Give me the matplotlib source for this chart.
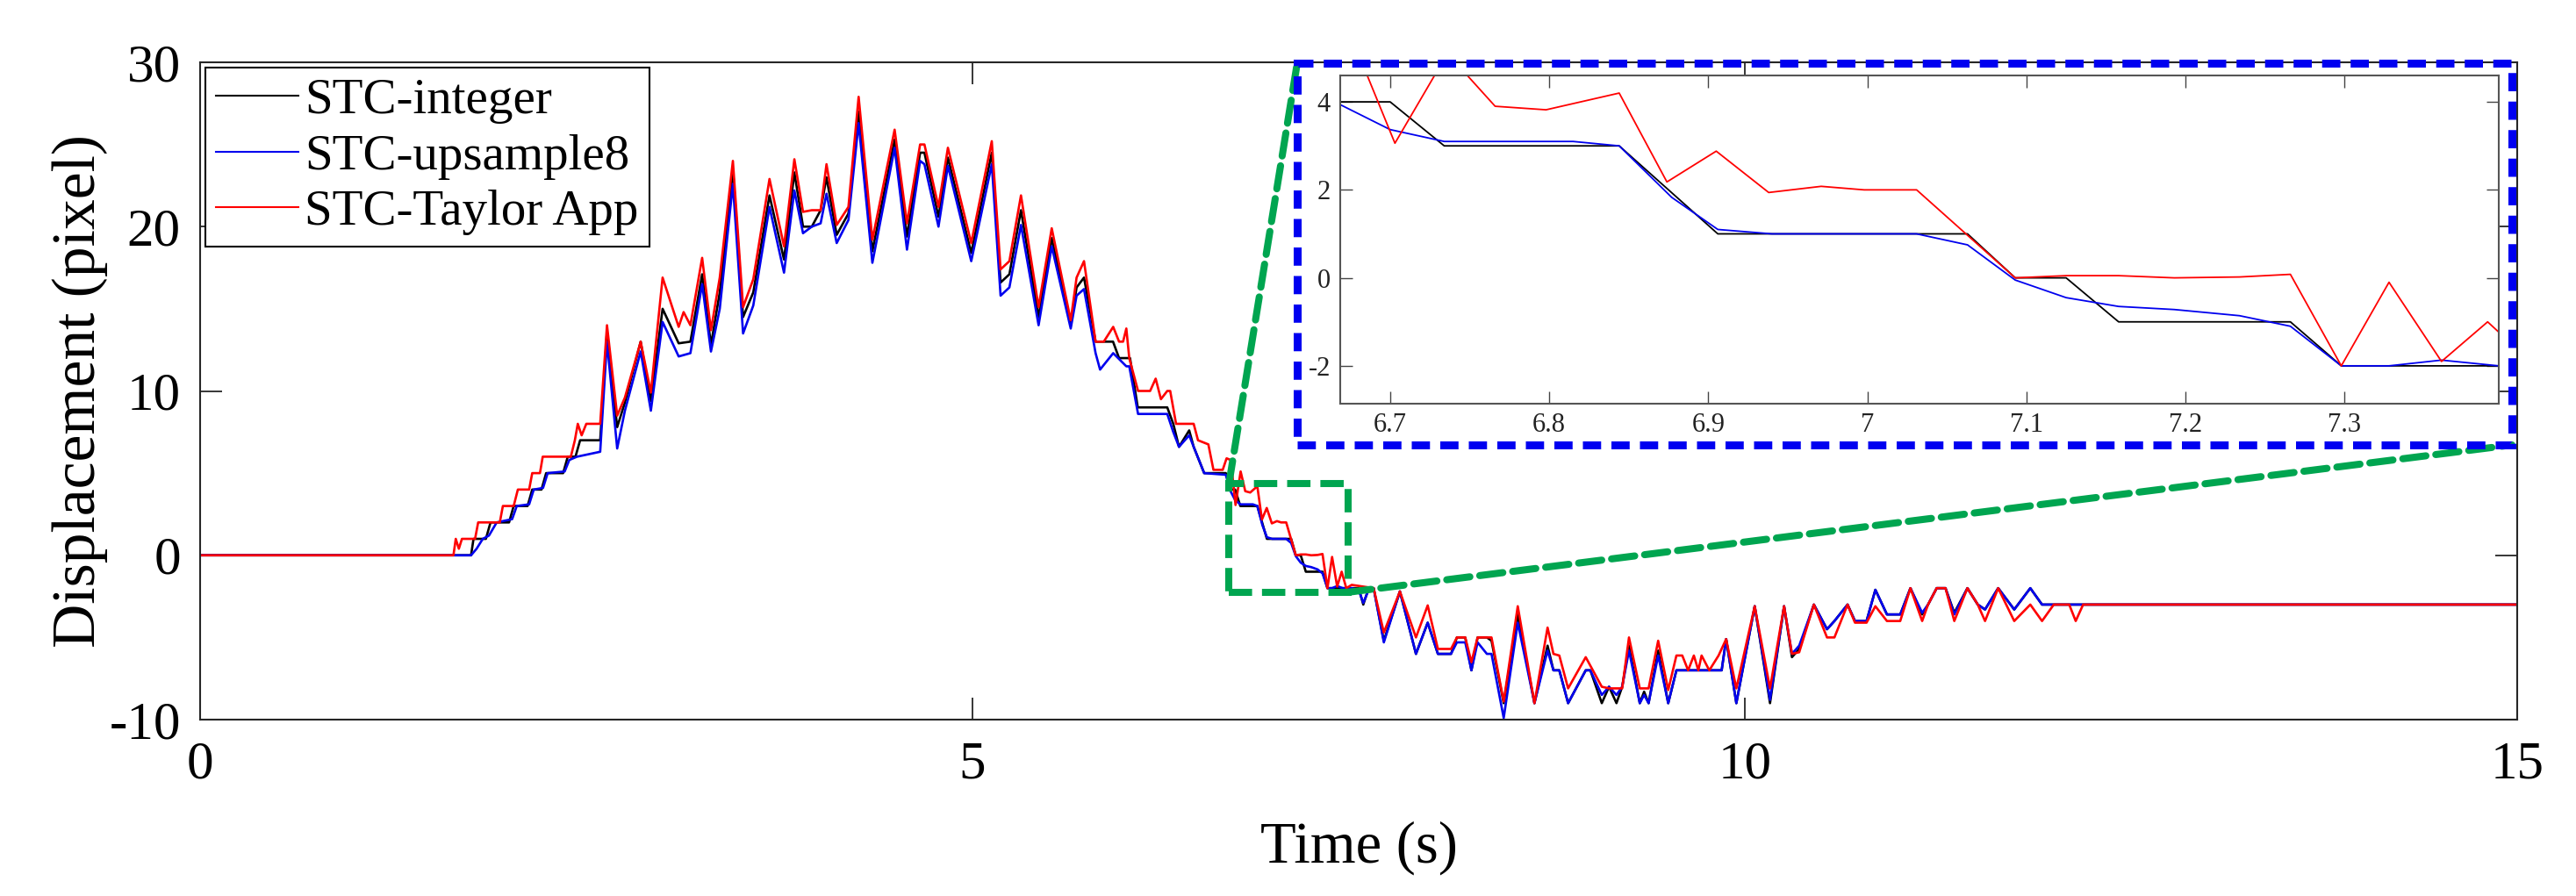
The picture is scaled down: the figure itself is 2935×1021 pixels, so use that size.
import numpy as np
import matplotlib
matplotlib.use("Agg")
import matplotlib.pyplot as plt
from matplotlib.patches import Rectangle, ConnectionPatch

plt.rcParams['font.family'] = ['Liberation Serif', 'DejaVu Serif']
plt.rcParams['axes.unicode_minus'] = False

# ---- data (time in s, displacement in pixel) ----
t_integer = [0, 1.754, 1.77, 1.85, 1.88, 2.0, 2.03, 2.12, 2.15, 2.21, 2.24, 2.35, 2.38, 2.43, 2.46, 2.59,
             2.634, 2.70, 2.75, 2.852, 2.918, 2.994, 3.098, 3.174, 3.25, 3.307, 3.364, 3.449, 3.515, 3.581,
             3.686, 3.78, 3.847, 3.903, 3.96, 4.017, 4.055, 4.121, 4.197, 4.263, 4.352, 4.496, 4.576, 4.661,
             4.689, 4.78, 4.841, 4.992, 5.125, 5.182, 5.239, 5.314, 5.428, 5.513, 5.636, 5.674, 5.722,
             5.797, 5.91, 5.949, 6.02, 6.07, 6.261, 6.30, 6.337, 6.403, 6.432, 6.50, 6.64,
             6.669, 6.70, 6.734, 6.844, 6.906, 7.063, 7.093, 7.125, 7.158, 7.266, 7.298, 7.40,
             7.455, 7.50, 7.53, 7.565, 7.597, 7.663, 7.767, 7.871, 7.947, 8.013, 8.098, 8.136, 8.19, 8.23,
             8.27, 8.33, 8.36, 8.439, 8.53, 8.638, 8.723, 8.761, 8.799, 8.856, 8.97, 9.0, 9.074, 9.121,
             9.169, 9.206, 9.25, 9.32, 9.348, 9.377, 9.439, 9.504, 9.557, 9.85,
             9.879, 9.945, 10.064, 10.163, 10.254, 10.305, 10.352, 10.447, 10.532, 10.58, 10.665, 10.713,
             10.788, 10.845, 10.92, 11.006, 11.072, 11.148, 11.186, 11.242, 11.299, 11.356, 11.441, 11.508,
             11.555, 11.64, 11.744, 11.848, 11.924, 15]
d_integer = [0, 0, 1, 1, 2, 2, 3, 3, 4, 4, 5, 5, 6, 6, 7, 7,
             13.6, 7.8, 9.3, 13.0, 9.4, 15.0, 12.9, 13.0, 17.1, 12.8, 16.0, 23.5, 14.5, 16.0,
             21.9, 18.0, 23.3, 20.0, 20.0, 21.0, 23.0, 19.5, 20.8, 27.0, 18.5, 25.3, 19.4, 24.5,
             24.5, 20.6, 24.2, 18.4, 24.5, 16.6, 17.1, 21.0, 14.5, 19.3, 14.0, 16.3, 16.9,
             13.0, 13.0, 12.0, 12.0, 9.0, 9.0, 8.0, 6.6, 7.6, 6.6, 5.0, 5.0,
             4, 4, 3, 3, 1, 1, 0, 0, -1, -1, -2, -2,
             -2, -2, -3, -2, -2, -5.2, -2.2, -6.0, -4.1, -6.0, -6.0, -5.0, -5.0, -7.0,
             -5.0, -5.0, -5.2, -9.0, -3.6, -9.0, -5.5, -7.0, -7.0, -9.0, -7.0, -7.0, -9.0, -8.0,
             -9.0, -8.0, -5.5, -9.0, -8.3, -9.0, -5.8, -9.0, -7.0, -7.0,
             -5.1, -9.0, -3.1, -9.0, -3.1, -6.2, -5.7, -3.0, -4.5, -4.0, -3.0, -4.0,
             -4.0, -2.1, -3.6, -3.6, -2.0, -3.6, -3.0, -2.0, -2.0, -3.5, -2.0, -3.0,
             -3.3, -2.0, -3.3, -2.0, -3.0, -3]

t_upsample = [0, 1.754, 1.79, 1.83, 1.87, 1.92, 2.02, 2.05, 2.13, 2.16, 2.22, 2.25, 2.36, 2.39, 2.44, 2.59,
              2.634, 2.70, 2.75, 2.852, 2.918, 2.994, 3.098, 3.174, 3.25, 3.307, 3.364, 3.449, 3.515, 3.581,
              3.686, 3.78, 3.847, 3.903, 3.96, 4.017, 4.055, 4.121, 4.197, 4.263, 4.352, 4.496, 4.576, 4.661,
              4.689, 4.78, 4.841, 4.992, 5.125, 5.182, 5.239, 5.314, 5.428, 5.513, 5.636, 5.674, 5.722,
              5.797, 5.826, 5.911, 5.996, 6.015, 6.072, 6.261, 6.30, 6.337, 6.403, 6.432, 6.50, 6.64,
              6.669, 6.70, 6.734, 6.815, 6.844, 6.877, 6.906, 6.94, 7.031, 7.063, 7.093, 7.125, 7.158,
              7.193, 7.234, 7.266, 7.298, 7.328, 7.361, 7.397,
              7.455, 7.50, 7.53, 7.565, 7.597, 7.663, 7.767, 7.871, 7.947, 8.013, 8.098, 8.136, 8.19, 8.23,
              8.27, 8.33, 8.36, 8.439, 8.53, 8.638, 8.723, 8.761, 8.799, 8.856, 8.97, 9.0, 9.074, 9.121,
              9.169, 9.206, 9.25, 9.32, 9.348, 9.377, 9.439, 9.504, 9.557, 9.85,
              9.879, 9.945, 10.064, 10.163, 10.254, 10.305, 10.352, 10.447, 10.532, 10.58, 10.665, 10.713,
              10.788, 10.845, 10.92, 11.006, 11.072, 11.148, 11.186, 11.242, 11.299, 11.356, 11.441, 11.508,
              11.555, 11.64, 11.744, 11.848, 11.924, 15]
d_upsample = [0, 0, 0.4, 1.0, 1.2, 2.0, 2.2, 3.0, 3.1, 4.0, 4.1, 5.0, 5.1, 5.8, 6.0, 6.3,
              13.0, 6.5, 8.8, 12.4, 8.8, 14.2, 12.1, 12.3, 16.5, 12.4, 15.0, 22.6, 13.5, 15.2,
              21.2, 17.2, 22.2, 19.6, 20.0, 20.2, 22.0, 19.0, 20.4, 26.3, 17.8, 24.8, 18.6, 24.0,
              23.8, 20.0, 23.7, 17.9, 23.8, 15.8, 16.3, 20.1, 14.0, 18.8, 13.8, 15.8, 16.2,
              12.3, 11.3, 12.3, 11.5, 11.5, 8.6, 8.6, 7.5, 6.6, 7.3, 6.6, 5.0, 4.9,
              3.93, 3.37, 3.1, 3.1, 3.0, 1.83, 1.1, 1.0, 1.0, 0.75, -0.05, -0.45, -0.65,
              -0.72, -0.86, -1.1, -2.0, -2.0, -1.87, -2.0,
              -2.0, -2.1, -2.9, -2.1, -2.0, -5.3, -2.2, -6.0, -4.1, -6.0, -6.0, -5.3, -5.3, -7.0,
              -5.3, -6.0, -6.0, -9.9, -4.1, -9.0, -5.8, -7.0, -7.0, -9.0, -7.0, -7.0, -8.5, -8.0,
              -8.5, -8.0, -5.8, -9.0, -8.5, -9.0, -6.1, -9.0, -7.0, -7.0,
              -5.1, -9.0, -3.1, -8.8, -3.1, -6.0, -5.5, -3.0, -4.5, -4.0, -3.0, -4.0,
              -4.0, -2.1, -3.6, -3.6, -2.0, -3.5, -3.0, -2.0, -2.0, -3.6, -2.0, -3.0,
              -3.3, -2.0, -3.3, -2.0, -3.0, -3]

t_taylor = [0, 1.64, 1.655, 1.675, 1.695, 1.78, 1.80, 1.94, 1.96, 2.03, 2.057, 2.13, 2.15, 2.20, 2.218,
            2.40, 2.426, 2.445, 2.47, 2.50, 2.59,
            2.634, 2.70, 2.75, 2.852, 2.918, 2.994, 3.098, 3.13, 3.174, 3.25, 3.307, 3.364, 3.449, 3.515, 3.581,
            3.686, 3.78, 3.847, 3.903, 3.96, 4.017, 4.055, 4.121, 4.197, 4.263, 4.352, 4.496, 4.576, 4.661,
            4.689, 4.78, 4.841, 4.992, 5.125, 5.182, 5.239, 5.314, 5.428, 5.513, 5.636, 5.674, 5.722,
            5.797, 5.85, 5.911, 5.949, 5.975, 5.996, 6.015, 6.072, 6.15, 6.186, 6.22, 6.261, 6.28, 6.318,
            6.432, 6.46, 6.527, 6.56, 6.62, 6.645,
            6.672, 6.703, 6.736, 6.766, 6.798, 6.844, 6.874, 6.905, 6.938, 6.971, 6.998, 7.031, 7.093,
            7.125, 7.158, 7.193, 7.234, 7.266, 7.298, 7.328, 7.361, 7.39, 7.42,
            7.455, 7.597, 7.663, 7.767, 7.871, 7.947, 8.013, 8.098, 8.136, 8.19, 8.23, 8.27, 8.36, 8.439,
            8.53, 8.638, 8.723, 8.761, 8.799, 8.856, 8.97, 9.074, 9.121, 9.206, 9.25, 9.32, 9.377, 9.439,
            9.504, 9.557, 9.595, 9.633, 9.67, 9.699, 9.72, 9.77, 9.83,
            9.879, 9.945, 10.064, 10.163, 10.254, 10.305, 10.352, 10.447, 10.532, 10.58, 10.665, 10.713,
            10.788, 10.845, 10.92, 11.006, 11.072, 11.148, 11.186, 11.242, 11.299, 11.356, 11.441, 11.508,
            11.555, 11.64, 11.744, 11.848, 11.924, 12.0, 12.10, 12.142, 12.19, 15]
d_taylor = [0, 0, 1.0, 0.4, 1.0, 1.0, 2.0, 2.0, 3.0, 3.0, 4.0, 4.0, 5.0, 5.0, 6.0,
            6.0, 7.0, 8.0, 7.3, 8.0, 8.0,
            14.0, 8.5, 9.6, 13.0, 9.9, 16.9, 13.9, 14.8, 14.0, 18.1, 13.7, 16.9, 24.0, 15.1, 16.8,
            22.9, 18.8, 24.1, 20.9, 21.0, 21.0, 23.8, 20.1, 21.2, 27.9, 19.2, 25.9, 20.2, 25.0,
            25.0, 21.2, 24.8, 19.0, 25.2, 17.4, 17.9, 21.9, 15.1, 19.9, 14.3, 16.9, 17.9,
            13.0, 13.0, 13.9, 13.0, 13.0, 13.8, 12.0, 10.0, 10.0, 10.75, 9.5, 10.0, 10.0, 8.0,
            8.0, 7.0, 6.75, 5.2, 5.2, 5.9,
            5.8, 3.06, 5.1, 3.9, 3.82, 4.2, 2.18, 2.88, 1.94, 2.08, 2.0, 2.0, 0.0,
            0.05, 0.05, 0.0, 0.02, 0.08, -2.0, -0.1, -1.9, -1.0, -2.0,
            -1.8, -2.0, -4.7, -2.2, -5.0, -3.05, -5.7, -5.7, -5.0, -5.0, -6.5, -5.0, -5.0, -8.9,
            -3.1, -9.0, -4.4, -6.0, -6.1, -8.1, -6.2, -8.0, -8.1, -8.1, -5.0, -8.1, -8.1, -5.2,
            -8.2, -6.1, -6.1, -7.0, -6.1, -7.0, -6.1, -7.0, -6.1,
            -5.1, -8.1, -3.1, -8.1, -3.1, -6.0, -5.9, -3.0, -5.0, -5.0, -3.0, -4.1,
            -4.1, -3.1, -4.0, -4.0, -2.0, -4.0, -3.0, -2.0, -2.0, -4.0, -2.0, -3.0,
            -4.0, -2.0, -4.0, -3.0, -4.0, -3.0, -3.0, -4.0, -3.0, -3.0]

series_names = ['STC-integer', 'STC-upsample8', 'STC-Taylor App']
x_ticks = [0, 5, 10, 15]
y_ticks = [-10, 0, 10, 20, 30]
zoom_x_ticks = [6.7, 6.8, 6.9, 7.0, 7.1, 7.2, 7.3]
zoom_x_labels = ['6.7', '6.8', '6.9', '7', '7.1', '7.2', '7.3']
zoom_y_ticks = [-2, 0, 2, 4]

# ---- layout ----
W, H = 2935, 1021
fig = plt.figure(figsize=(W / 100, H / 100), dpi=100)
ax = fig.add_axes([228 / W, 1 - 820 / H, 2640 / W, 749 / H])

colors = ['k', '#0000ee', '#ff0000']
series = [(t_integer, d_integer), (t_upsample, d_upsample), (t_taylor, d_taylor)]
for (t, d), c, name in zip(series, colors, series_names):
    ax.plot(np.array(t), np.array(d), color=c, lw=1.9, label=name)

ax.set_xlim(0, 15)
ax.set_ylim(-10, 30)
ax.set_xticks(x_ticks)
ax.set_yticks(y_ticks)
ax.tick_params(direction='in', length=18, width=1.3, top=True, right=True,
               labelsize=44, color='#262626')
ax.tick_params(axis='x', pad=17)
ax.tick_params(axis='y', pad=16)
for s in ax.spines.values():
    s.set_color('#262626')
    s.set_linewidth(1.5)

ax.set_xlabel('Time (s)', fontsize=48)
ax.set_ylabel('Displacement (pixel)', fontsize=50)
ax.xaxis.set_label_coords(0.5, (820 - 935) / 749)
ax.yaxis.set_label_coords((123 - 228) / 2640, 0.5)

leg = ax.legend(loc='upper left', fontsize=41, fancybox=False, framealpha=1,
                edgecolor='k', borderpad=0.22, handlelength=1.65, handletextpad=0.12,
                labelspacing=0.2, borderaxespad=0.1)
leg.get_frame().set_linewidth(1.5)
for h in leg.get_lines():
    h.set_linewidth(1.5)

# green box marking the zoomed region
green = '#00a550'
gx0, gx1, gy0, gy1 = 6.66, 7.43, -2.25, 4.34
ax.add_patch(Rectangle((gx0, gy0), gx1 - gx0, gy1 - gy0, fill=False, edgecolor=green,
                       lw=5.8, linestyle=(0, (3.3, 1.4)), zorder=5, clip_on=False))

# inset
axin = fig.add_axes([1527 / W, 1 - 460 / H, 1320 / W, 374 / H])
for (t, d), c in zip(series, colors):
    axin.plot(np.array(t), np.array(d), color=c, lw=1.3)
axin.set_xlim(6.6686, 7.397)
axin.set_ylim(-2.86, 4.6)
axin.set_xticks(zoom_x_ticks)
axin.set_xticklabels(zoom_x_labels)
axin.set_yticks(zoom_y_ticks)
axin.tick_params(direction='in', length=10, width=1.0, top=True, right=True,
                 labelsize=22, color='#444444', labelcolor='#222222')
axin.tick_params(axis='x', pad=7)
axin.tick_params(axis='y', pad=8)
for s in axin.spines.values():
    s.set_color('#555555')
    s.set_linewidth(1.5)

# blue dashed frame around the inset
bx0, by0, bx1, by1 = 1478 / W, 1 - 507 / H, 2862 / W, 1 - 72 / H
fig.add_artist(Rectangle((bx0, by0), bx1 - bx0, by1 - by0, transform=fig.transFigure,
                         fill=False, edgecolor='#0000f0', lw=6.5, linestyle=(0, (2.3, 1.3)),
                         zorder=3))

# green connectors
for xyA, xyB in [((gx0, gy1), (bx0, by1)), ((gx1, gy0), (bx1, by0))]:
    cp = ConnectionPatch(xyA=xyA, coordsA=ax.transData, xyB=xyB, coordsB=fig.transFigure,
                         color=green, lw=5.8, linestyle=(0, (3.3, 1.4)), zorder=2)
    fig.add_artist(cp)

fig.savefig('out.png', dpi=100, facecolor='white')
